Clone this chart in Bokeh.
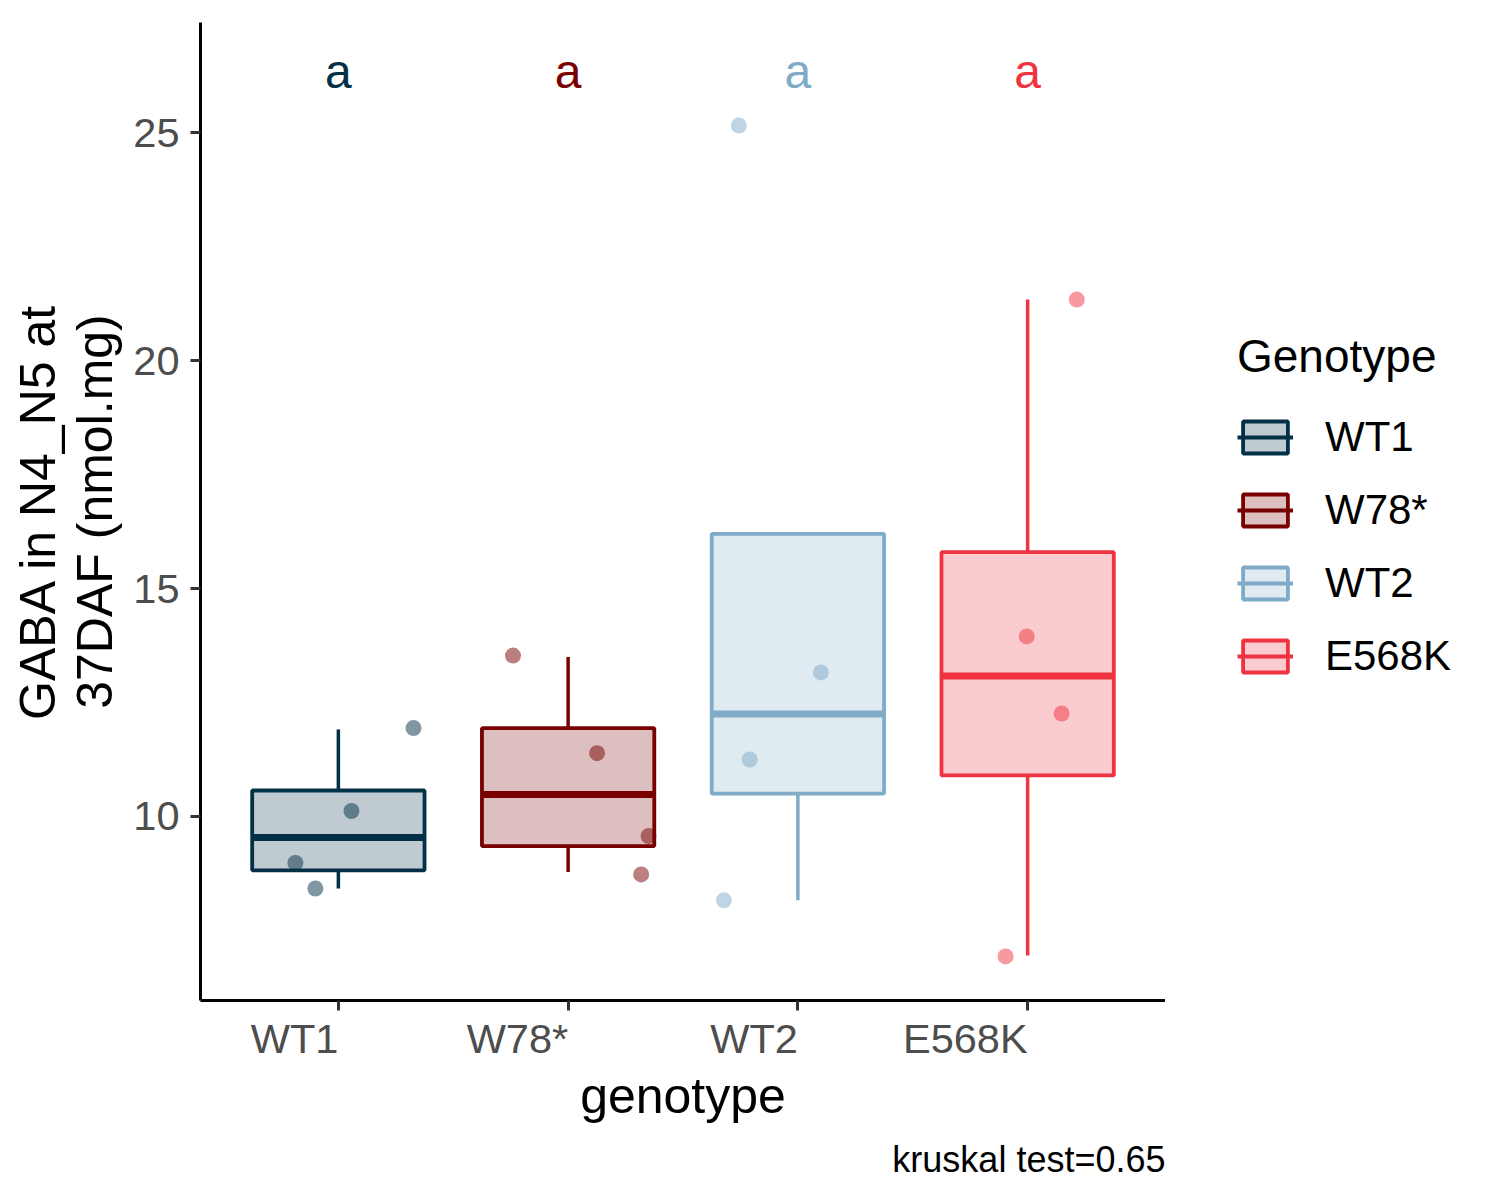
import math
from bokeh.plotting import figure
from bokeh.layouts import row
from bokeh.models import ColumnDataSource, FixedTicker, Legend, LegendItem, Title, Range1d
from bokeh.embed import file_html
from bokeh.resources import INLINE
from bokeh.core.properties import value

# ---- data ----
categories = ["WT1", "W78*", "WT2", "E568K"]
colors = ["#023047", "#780000", "#7FABC8", "#EF3340"]
whisker_low = [8.42, 8.78, 8.16, 6.95]
q1 = [8.82, 9.35, 10.50, 10.90]
median = [9.54, 10.48, 12.25, 13.08]
q3 = [10.57, 11.94, 16.20, 15.80]
whisker_high = [11.91, 13.50, 16.20, 21.34]
letters = ["a", "a", "a", "a"]
letter_y = [26.35, 26.35, 26.35, 26.35]

pt_group = [0, 0, 0, 0, 1, 1, 1, 1, 2, 2, 2, 2, 3, 3, 3, 3]
pt_offset = [0.327, 0.057, -0.187, -0.100,
             -0.240, 0.126, 0.350, 0.318,
             -0.257, 0.100, -0.210, -0.322,
             0.214, -0.004, 0.148, -0.096]
pt_value = [11.94, 10.12, 8.98, 8.42,
            13.53, 11.39, 9.57, 8.73,
            25.16, 13.16, 11.25, 8.16,
            21.34, 13.95, 12.26, 6.93]

y_ticks = [10, 15, 20, 25]
caption = "kruskal test=0.65"
legend_title = "Genotype"
FONT = "Liberation Sans"

# ---- sources ----
xpos = [i + 1 for i in range(len(categories))]
half = 0.375
box_src = ColumnDataSource(dict(
    x=xpos, left=[x - half for x in xpos], right=[x + half for x in xpos],
    q1=q1, q3=q3, med=median, lo=whisker_low, hi=whisker_high,
    color=colors, label=letters, ly=letter_y,
))
pt_src = ColumnDataSource(dict(
    x=[xpos[g] + o for g, o in zip(pt_group, pt_offset)],
    y=pt_value,
    color=[colors[g] for g in pt_group],
))

H = 1190
p = figure(width=1165, height=H, output_backend="svg", toolbar_location=None,
           x_range=Range1d(0.4, 4.6), y_range=Range1d(5.963, 27.42),
           min_border_left=200, min_border_right=0, min_border_top=22, min_border_bottom=190)
p.grid.visible = False
p.outline_line_color = None
p.background_fill_color = "white"

# points (under the boxes)
p.scatter("x", "y", source=pt_src, size=16, fill_color="color", line_color=None, fill_alpha=0.5)
# whiskers
p.segment("x", "q3", "x", "hi", source=box_src, line_color="color", line_width=3.5)
p.segment("x", "q1", "x", "lo", source=box_src, line_color="color", line_width=3.5)
# boxes
p.quad(left="left", right="right", bottom="q1", top="q3", source=box_src,
       fill_color="color", fill_alpha=0.25, line_color="color", line_width=3.8)
p.segment("left", "med", "right", "med", source=box_src, line_color="color", line_width=7)
# letters
p.text("x", "ly", text="label", source=box_src, text_color="color", text_font=value(FONT),
       text_font_size="48px", text_align="center", text_baseline="middle")

# axes
for ax in (p.xaxis[0], p.yaxis[0]):
    ax.axis_line_color = "black"
    ax.axis_line_width = 3
    ax.major_tick_line_color = "#333333"
    ax.major_tick_line_width = 3
    ax.major_tick_out = 10
    ax.major_tick_in = 0
    ax.minor_tick_line_color = None
    ax.major_label_text_font = FONT
    ax.major_label_text_font_size = "41.5px"
    ax.major_label_text_color = "#4D4D4D"
    ax.axis_label_text_font = FONT
    ax.axis_label_text_font_size = "50px"
    ax.axis_label_text_font_style = "normal"
    ax.axis_label_text_color = "black"

p.xaxis.ticker = FixedTicker(ticks=xpos)
p.xaxis.major_label_overrides = {x: c for x, c in zip(xpos, categories)}
p.xaxis.major_label_orientation = 1e-4
p.xaxis.major_label_standoff = 28
p.xaxis.axis_label = "genotype"
p.xaxis.axis_label_standoff = -21

p.yaxis.ticker = FixedTicker(ticks=y_ticks)
p.yaxis.major_label_standoff = 11
p.yaxis.axis_label = "GABA in N4_N5 at\n37DAF (nmol.mg)"
p.yaxis.axis_label_standoff = 7
p.yaxis.axis_label_text_line_height = 1.02

# caption
cap = Title(text=caption, align="right", text_font=FONT, text_font_size="36px",
            text_font_style="normal", text_color="black", standoff=21)
p.add_layout(cap, "below")

# ---- legend panel (a second figure holding the legend; its glyphs lie out of view) ----
pl = figure(width=1484 - 1165, height=H, output_backend="svg", toolbar_location=None,
            x_range=Range1d(100, 101), y_range=Range1d(100, 101),
            x_axis_location=None, y_axis_location=None,
            min_border=0, min_border_left=0, min_border_right=0, min_border_top=0, min_border_bottom=0)
pl.grid.visible = False
pl.outline_line_color = None
lg_box = pl.quad(left="left", right="right", bottom="q1", top="q3", source=box_src,
                 fill_color="color", fill_alpha=0.25, line_color="color", line_width=3.8)
lg_med = pl.segment("left", "med", "right", "med", source=box_src, line_color="color", line_width=3.8)

items = [LegendItem(label=c, renderers=[lg_box, lg_med], index=i) for i, c in enumerate(categories)]
legend = Legend(items=items, location=(72, 320), title=legend_title,
                title_text_font=FONT, title_text_font_size="46px", title_text_font_style="normal",
                title_text_color="black", title_standoff=30,
                label_text_font=FONT, label_text_font_size="42px", label_text_color="black",
                glyph_width=56, glyph_height=40, label_height=40, label_standoff=32,
                spacing=25, padding=0, margin=0,
                border_line_color=None, background_fill_alpha=0)
pl.add_layout(legend, "center")

layout = row(p, pl)
open("out.html", "w").write(file_html(layout, INLINE))
